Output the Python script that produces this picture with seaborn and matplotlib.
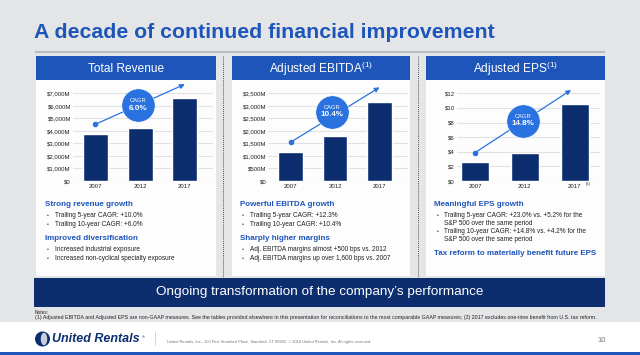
import matplotlib
matplotlib.use("Agg")
import matplotlib.pyplot as plt
import matplotlib.patches as mpatches
import matplotlib.lines as mlines
import matplotlib.transforms as mtrans
import seaborn as sns

# chart data
years = ["2007", "2012", "2017"]
revenue = [3730, 4200, 6640]
ebitda = [1170, 1785, 3165]
eps = [2.64, 3.79, 10.58]

revenue_ticks = [0, 1000, 2000, 3000, 4000, 5000, 6000, 7000]
revenue_labels = ["$0", "$1,000M", "$2,000M", "$3,000M", "$4,000M", "$5,000M", "$6,000M", "$7,000M"]
ebitda_ticks = [0, 500, 1000, 1500, 2000, 2500, 3000, 3500]
ebitda_labels = ["$0", "$500M", "$1,000M", "$1,500M", "$2,000M", "$2,500M", "$3,000M", "$3,500M"]
eps_ticks = [0, 2, 4, 6, 8, 10, 12]
eps_labels = ["$0", "$2", "$4", "$6", "$8", "$10", "$12"]

cagr = ["6.0%", "10.4%", "14.8%"]
panel_titles = ["Total Revenue",
                r"Adjusted EBITDA$^{\mathregular{(1)}}$",
                r"Adjusted EPS$^{\mathregular{(1)}}$"]

# (kind, text): h = heading, b = bullet, c = bullet continuation
notes_revenue = [("h", "Strong revenue growth"),
                 ("b", "Trailing 5-year CAGR: +10.0%"),
                 ("b", "Trailing 10-year CAGR: +6.0%"),
                 ("h", "Improved diversification"),
                 ("b", "Increased industrial exposure"),
                 ("b", "Increased non-cyclical specialty exposure")]
notes_ebitda = [("h", "Powerful EBITDA growth"),
                ("b", "Trailing 5-year CAGR: +12.3%"),
                ("b", "Trailing 10-year CAGR: +10.4%"),
                ("h", "Sharply higher margins"),
                ("b", "Adj. EBITDA margins almost +500 bps vs. 2012"),
                ("b", "Adj. EBITDA margins up over 1,600 bps vs. 2007")]
notes_eps = [("h", "Meaningful EPS growth"),
             ("b", "Trailing 5-year CAGR: +23.0% vs. +5.2% for the"),
             ("c", "S&P 500 over the same period"),
             ("b", "Trailing 10-year CAGR: +14.8% vs. +4.2% for the"),
             ("c", "S&P 500 over the same period"),
             ("h", "Tax reform to materially benefit future EPS")]

# colours
BG = "#e4e5e7"
BLUE = "#1d55ba"
NAVY = "#0c2e6f"
CIRCLE = "#2a72df"
GRID = "#e2e2e2"
TXT = "#222222"

sns.set_theme(style="white")
plt.rcParams["font.family"] = ["Liberation Sans", "DejaVu Sans"]
plt.rcParams["mathtext.fontset"] = "custom"
plt.rcParams["mathtext.rm"] = "Liberation Sans"

W, H = 640, 355
fig = plt.figure(figsize=(6.4, 3.55), dpi=100, facecolor=BG)


def fx(x):
    return x / W


def fy(y):
    return 1 - y / H


def rect(x0, y0, x1, y1, color):
    fig.patches.append(mpatches.Rectangle((fx(x0), fy(y1)), (x1 - x0) / W, (y1 - y0) / H,
                                          transform=fig.transFigure, color=color,
                                          lw=0, zorder=-5))


def ftext(x, y, s, **kw):
    kw.setdefault("va", "center")
    fig.text(fx(x), fy(y), s, **kw)


# title and rule
ftext(34, 33, "A decade of continued financial improvement", fontsize=15.3,
      fontweight="bold", color=BLUE, ha="left")
rect(35, 50.8, 605, 53.2, "#b9babc")

# panels
panels_x = [(36, 216), (231.7, 410), (426, 605)]
for (x0, x1), title in zip(panels_x, panel_titles):
    rect(x0, 56, x1, 80, BLUE)
    rect(x0, 80, x1, 276, "#fdfdfd")
    ftext((x0 + x1) / 2, 68.5, title, fontsize=8.6, color="white", ha="center")

for xd in [222.5, 417.5]:
    fig.lines.append(mlines.Line2D([fx(xd), fx(xd)], [fy(56), fy(277)], transform=fig.transFigure,
                                   color="#555555", lw=0.7, ls=(0, (1, 1))))

# bar charts
axes_px = [(73, 213), (268.3, 408), (457, 600)]
xlims = [(-0.50, 2.63), (-0.50, 2.64), (-0.36, 2.51)]
ylims = [(0, 7900), (0, 3950), (0, 13.55)]
arrow_y = [(0.573, 0.977), (0.391, 0.946), (0.286, 0.919)]
arrow_x_end = [2.0, 2.0, 1.93]
circle_pos = [(0.466, 0.768), (0.458, 0.70), (0.464, 0.609)]
series = [revenue, ebitda, eps]
ticks = [(revenue_ticks, revenue_labels), (ebitda_ticks, ebitda_labels), (eps_ticks, eps_labels)]

for i in range(3):
    ax0, ax1 = axes_px[i]
    ax = fig.add_axes([fx(ax0), fy(181), (ax1 - ax0) / W, (181 - 82) / H])
    ax.set_facecolor("none")
    sns.barplot(x=years, y=series[i], ax=ax, color=NAVY, width=0.56, saturation=1)
    ax.set_xlim(*xlims[i])
    ax.set_ylim(*ylims[i])
    ax.set_yticks(ticks[i][0])
    ax.set_yticklabels(ticks[i][1])
    ax.tick_params(axis="both", length=0, labelsize=4.3, colors=TXT)
    ax.tick_params(axis="y", pad=1.5)
    ax.tick_params(axis="x", pad=2)
    ax.yaxis.grid(True, color=GRID, lw=0.8)
    ax.set_axisbelow(True)
    for sp in ax.spines.values():
        sp.set_visible(False)

    trans = mtrans.blended_transform_factory(ax.transData, ax.transAxes)
    ys, ye = arrow_y[i]
    ax.annotate("", xy=(arrow_x_end[i], ye), xytext=(0, ys), xycoords=trans, textcoords=trans,
                arrowprops=dict(arrowstyle="-|>", color=CIRCLE, lw=0.9, mutation_scale=7,
                                shrinkA=0, shrinkB=0), annotation_clip=False)
    ax.plot([0], [ys], "o", ms=3, color=CIRCLE, transform=trans, clip_on=False)

    cx, cy = circle_pos[i]
    ax.plot([cx], [cy], "o", ms=24, color=CIRCLE, mec="white", mew=0.4,
            transform=ax.transAxes, clip_on=False, zorder=6)
    ax.annotate("CAGR", xy=(cx, cy), xycoords="axes fraction", xytext=(0, 3.3),
                textcoords="offset points", ha="center", va="center", fontsize=4.2,
                color="white", zorder=7)
    ax.annotate(cagr[i], xy=(cx, cy), xycoords="axes fraction", xytext=(0, -2.2),
                textcoords="offset points", ha="center", va="center", fontsize=5.8,
                fontweight="bold", color="white", zorder=7)

ftext(588.5, 184.5, "(2)", fontsize=2.8, color=TXT, ha="center")

# commentary under each chart
note_rows = [[205, 215.3, 224.3, 239, 249.3, 258.7],
             [205, 215.3, 224.3, 239, 249.3, 258.7],
             [205, 215.3, 223, 231.5, 239.2, 253.7]]
note_x = [(45, 46.7, 55), (240, 241.7, 250), (434, 436.7, 444)]
for notes, rows, (hx, bx, tx) in zip([notes_revenue, notes_ebitda, notes_eps], note_rows, note_x):
    for (kind, s), y in zip(notes, rows):
        if kind == "h":
            ftext(hx, y, s, fontsize=5.8, fontweight="bold", color=BLUE, ha="left")
        else:
            if kind == "b":
                ftext(bx, y, "\u2022", fontsize=3.5, color=NAVY, ha="left")
            ftext(tx, y, s, fontsize=4.7, color=TXT, ha="left")

# banner
rect(34.3, 277.7, 605, 307.3, NAVY)
ftext(320, 292.5, "Ongoing transformation of the company\u2019s performance", fontsize=9.7,
      color="white", ha="center")

# notes
ftext(35, 312.7, "Notes:", fontsize=3.5, color=TXT, ha="left")
ftext(35, 317.9, "(1) Adjusted EBITDA and Adjusted EPS are non-GAAP measures. See the tables provided "
      "elsewhere in this presentation for reconciliations to the most comparable GAAP measures; "
      "(2) 2017 excludes one-time benefit from U.S. tax reform.", fontsize=3.75, color=TXT, ha="left")

# footer
rect(0, 322.3, 640, 352.3, "white")
rect(0, 352.3, 640, 355, BLUE)
fig.patches.append(mpatches.Ellipse((fx(42.5), fy(339)), 15 / W, 15 / H, transform=fig.transFigure,
                                    color=NAVY, lw=0, zorder=2))
fig.patches.append(mpatches.Ellipse((fx(44), fy(339)), 6.5 / W, 12.5 / H, transform=fig.transFigure,
                                    color="#c9ced8", lw=0, zorder=3))
ftext(52, 339.5, "United Rentals", fontsize=9, fontweight="bold", fontstyle="italic",
      color=NAVY, ha="left")
ftext(141.5, 337, "\u00ae", fontsize=3, color=NAVY, ha="left")
fig.lines.append(mlines.Line2D([fx(155), fx(155)], [fy(331.7), fy(345)], transform=fig.transFigure,
                               color="#cccccc", lw=0.6))
ftext(166.7, 341.7, "United Rentals, Inc., 100 First Stamford Place, Stamford, CT 06902. "
      "\u00a9 2018 United Rentals, Inc. All rights reserved.", fontsize=2.85, color="#777777", ha="left")
ftext(601.7, 340.7, "10", fontsize=5.5, color="#777777", ha="center")

fig.savefig("out.png", dpi=100, facecolor=BG)
